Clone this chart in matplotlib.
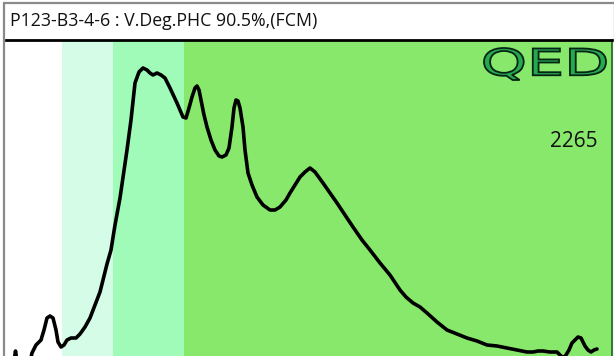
import matplotlib
matplotlib.use("Agg")
import matplotlib.pyplot as plt
from matplotlib.patches import Rectangle, PathPatch
from matplotlib.textpath import TextPath
from matplotlib.font_manager import FontProperties
from matplotlib.transforms import Affine2D, IdentityTransform

title = "P123-B3-4-6 : V.Deg.PHC 90.5%,(FCM)"
count_label = "2265"
logo = "QED"

# band edges along the x scale (same units as the trace)
band_edges = [0, 55.5, 106.5, 178.3, 606]
band_colors = ["#ffffff", "#d4fce6", "#a0fab8", "#88e86c"]

# trace: x position, response height
trace_x = [8, 9.5, 11, 24, 26, 30, 35, 38, 41, 44, 47, 50, 52, 55, 58, 61, 65, 70, 74, 79,
           84, 89, 94, 97, 101, 105, 109, 114, 121, 125, 129, 133, 137, 141, 144, 147,
           151, 155, 159, 164, 171, 177, 180, 183, 186, 189, 191, 193, 195, 198, 201,
           205, 209, 213, 216, 220, 223, 226, 228, 230, 232, 234, 237, 239, 242, 246,
           251, 257, 264, 269, 274, 280, 284, 289, 294, 299, 304, 309, 317, 324, 331,
           339, 347, 356, 364, 374, 384, 394, 400, 407, 414, 421, 431, 441, 451, 461,
           471, 481, 491, 501, 511, 521, 527, 532, 537, 544, 551, 554, 557, 560, 563,
           566, 569, 572, 575, 577, 579, 582, 585, 588, 591]
trace_y = [-6, 5, -6, -6, 3, 11, 16, 26, 38, 40, 38, 26, 14, 9, 11, 16, 18, 18, 22, 29,
           38, 51, 64, 76, 92, 106, 131, 158, 206, 236, 273, 284, 288, 286, 283, 281,
           283, 281, 278, 268, 253, 239, 238, 248, 259, 268, 270, 266, 256, 241, 229,
           216, 206, 200, 199, 201, 208, 229, 248, 256, 255, 248, 229, 206, 183, 171,
           159, 151, 146, 146, 149, 156, 163, 171, 179, 184, 188, 184, 173, 163, 153,
           141, 129, 116, 106, 93, 81, 66, 59, 53, 49, 43, 34, 26, 22, 18,
           15, 11, 10, 8, 6, 4, 4, 5, 5, 4, 4, 1, -2, 1, 6,
           13, 16, 19, 18, 14, 10, 6, 4, 6, 7]

W, H = 614, 356
fig = plt.figure(figsize=(W / 100, H / 100), dpi=100)

# title strip
fig.text(10 / W, 1 - 21 / H, title, fontsize=12.8, family="Open Sans",
         va="center", ha="left", color="#111111")

ax = fig.add_axes([6 / W, 0, 606 / W, (H - 40) / H])
ax.set_xlim(0, 606)
ax.set_ylim(0, 316)
for i, c in enumerate(band_colors):
    ax.axvspan(band_edges[i], band_edges[i + 1], color=c, lw=0, zorder=0)
ax.plot(trace_x, trace_y, color="black", lw=2.6, solid_joinstyle="round",
        solid_capstyle="round", zorder=3)
ax.set_xticks([])
ax.set_yticks([])
for s in ax.spines.values():
    s.set_visible(False)
ax.spines["top"].set_visible(True)
ax.spines["top"].set_linewidth(2.0)
ax.spines["top"].set_color("black")
ax.spines["right"].set_visible(True)
ax.spines["right"].set_linewidth(1.2)
ax.spines["right"].set_color("#1f5f1f")

ax.text(0.937, 0.68, count_label, transform=ax.transAxes, fontsize=15,
        family="Open Sans", ha="center", va="center", color="#111111")

# QED logo, stretched wide into its box (pixel coordinates)
tp = TextPath((0, 0), logo, size=1, prop=FontProperties(family="DejaVu Sans"))
ext = tp.get_extents()
x0, x1, y0, y1 = 484, 606, H - 80, H - 48
tr = (Affine2D().translate(-ext.x0, -ext.y0)
      .scale((x1 - x0) / ext.width, (y1 - y0) / ext.height)
      .translate(x0, y0))
logo_patch = PathPatch(tr.transform_path(tp), facecolor="#26a850",
                       edgecolor="#062414", lw=1.3, transform=IdentityTransform())
fig.add_artist(logo_patch)

# outer gray frame
fig.add_artist(Rectangle((4 / W, -0.01), (W - 3) / W, 1 - 3 / H + 0.01,
                         transform=fig.transFigure, fill=False,
                         edgecolor="#8a8a8a", lw=1.6))

fig.savefig("out.png", dpi=100)
